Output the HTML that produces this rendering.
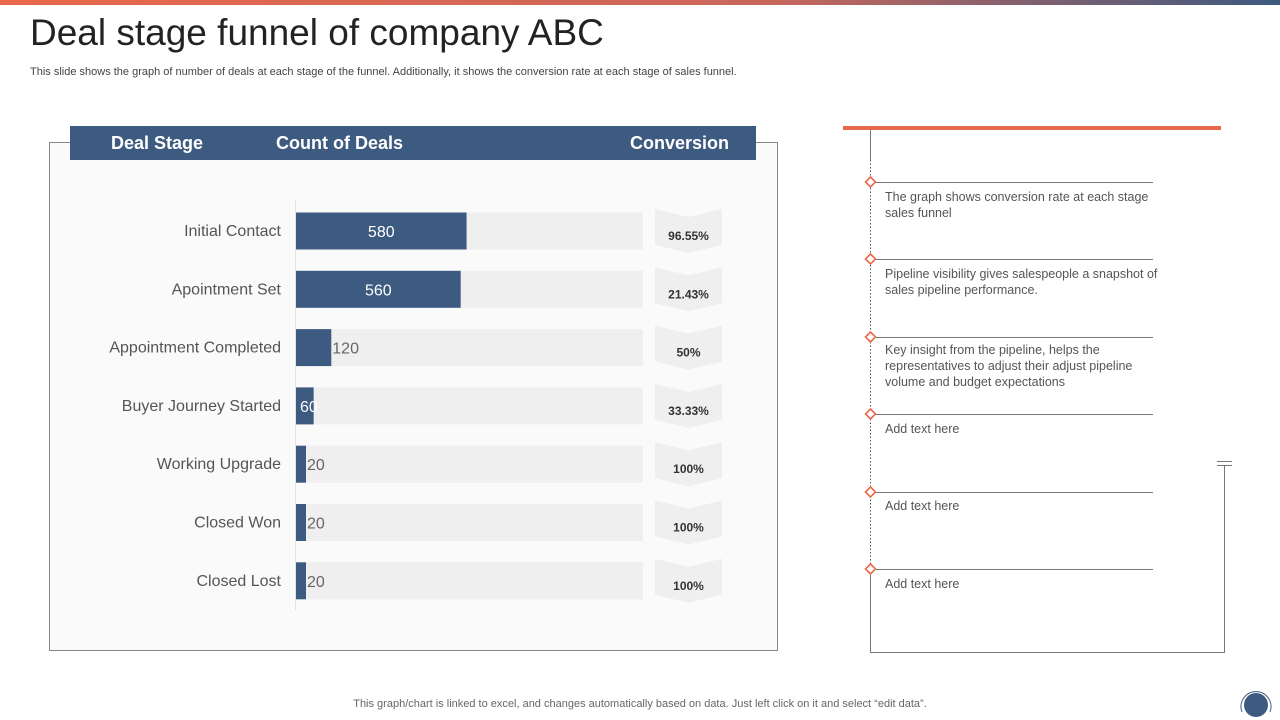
<!DOCTYPE html>
<html><head><meta charset="utf-8"><style>
body{margin:0;width:1280px;height:720px;position:relative;background:#fff;font-family:"Liberation Sans",sans-serif;overflow:hidden}
.abs{position:absolute}
.note{position:absolute;left:885px;font-size:12.5px;color:#555;line-height:16px;width:290px}
</style></head><body>
<div class="abs" style="left:0;top:0;width:1280px;height:5px;background:linear-gradient(90deg,#e8684a,#c9675c 60%,#3d5a80)"></div>
<div class="abs" style="left:30px;top:12px;font-size:37px;color:#222">Deal stage funnel of company ABC</div>
<div class="abs" style="left:30px;top:66px;font-size:11px;color:#444">This slide shows the graph of number of deals at each stage of the funnel. Additionally, it shows the conversion rate at each stage of sales funnel.</div>
<div class="abs" style="left:49px;top:142px;width:727px;height:507px;border:1px solid #888;background:#fafafa"></div>
<div class="abs" style="left:70px;top:126px;width:686px;height:34px;background:#3d5a80;color:#fff;font-weight:bold;font-size:18px">
<span class="abs" style="left:41px;top:7px">Deal Stage</span>
<span class="abs" style="left:206px;top:7px">Count of Deals</span>
<span class="abs" style="left:560px;top:7px">Conversion</span>
</div>
<svg class="abs" style="left:0;top:0" width="780" height="660" id="chart"></svg>
<div class="abs" style="left:843px;top:126px;width:378px;height:4px;background:#e8684a"></div>
<svg class="abs" style="left:0;top:0" width="1280" height="720">
<line x1="870.5" y1="130" x2="870.5" y2="160" stroke="#777"/>
<line x1="870.5" y1="160" x2="870.5" y2="575" stroke="#555" stroke-dasharray="1.5,2"/>
<line x1="870.5" y1="575" x2="870.5" y2="652.5" stroke="#777"/>
<line x1="870" y1="652.5" x2="1225" y2="652.5" stroke="#777"/>
<line x1="1224.5" y1="465" x2="1224.5" y2="652.5" stroke="#777"/>
<line x1="1217" y1="461.5" x2="1232" y2="461.5" stroke="#777"/>
<line x1="1217" y1="465.5" x2="1232" y2="465.5" stroke="#777"/>
<g id="tl"></g>
</svg>
<div class="note" style="top:189px">The graph shows conversion rate at each stage sales funnel</div>
<div class="note" style="top:266px">Pipeline visibility gives salespeople a snapshot of sales pipeline performance.</div>
<div class="note" style="top:342px;width:270px">Key insight from the pipeline, helps the representatives to adjust their adjust pipeline volume and budget expectations</div>
<div class="note" style="top:421px">Add text here</div>
<div class="note" style="top:498px">Add text here</div>
<div class="note" style="top:576px">Add text here</div>
<div class="abs" style="left:0;width:1280px;text-align:center;top:698px;font-size:11px;color:#666">This graph/chart is linked to excel, and changes automatically based on data. Just left click on it and select “edit data”.</div>
<svg class="abs" style="left:1238px;top:686px" width="36" height="34"><path d="M4 26 A15 15 0 1 1 32 26" fill="none" stroke="#3d5a80" stroke-width="1"/><circle cx="18" cy="19" r="12" fill="#3d5a80"/></svg>
<script>
const stages=["Initial Contact","Apointment Set","Appointment Completed","Buyer Journey Started","Working Upgrade","Closed Won","Closed Lost"];
const counts=[580,560,120,60,20,20,20];
const conversions=["96.55%","21.43%","50%","33.33%","100%","100%","100%"];
const NS="http://www.w3.org/2000/svg";
const svg=document.getElementById('chart');
function mk(t,a){const e=document.createElementNS(NS,t);for(const k in a)e.setAttribute(k,a[k]);return e;}
const x0=296,trackW=347,maxV=1180;
function xs(v){return Math.max(10,v/maxV*trackW);}
function ys(i){return 231+i*58.3;}
const ax=mk('line',{x1:295.5,y1:200,x2:295.5,y2:610,stroke:'#e4e4e4'});


svg.appendChild(ax);
stages.forEach((s,i)=>{
  const y=ys(i);
  const lb=mk('text',{x:281,y:y+5,'text-anchor':'end','font-size':16,fill:'#555'});lb.textContent=s;
  
  
  svg.appendChild(lb);
  const tr=mk('rect',{x:x0,y:y-18.5,width:trackW,height:37,fill:'#efefef'});
  
  
  svg.appendChild(tr);
  const w=xs(counts[i]);
  const b=mk('rect',{x:x0,y:y-18.5,width:w,height:37,fill:'#3d5a80'});
  
  
  svg.appendChild(b);
  const inside=w>40;
  const t=mk('text',{x:inside?(w>100?x0+w/2:x0+w/2):x0+w+1,y:y+6,'text-anchor':inside?'middle':'start','font-size':16,fill:inside?'#fff':'#666'});
  t.textContent=counts[i];
  if(counts[i]>=60&&counts[i]<120){t.setAttribute('x',x0+4);t.setAttribute('text-anchor','start');t.setAttribute('fill','#fff');}
  
  
  svg.appendChild(t);
  const cy=y+4,L=655,R=722;
  const ch=mk('polygon',{points:`${L},${cy-26} ${(L+R)/2},${cy-18} ${R},${cy-26} ${R},${cy+10} ${(L+R)/2},${cy+18} ${L},${cy+10}`,fill:'#efefef'});
  
  
  svg.appendChild(ch);
  const ct=mk('text',{x:(L+R)/2,y:cy+5,'text-anchor':'middle','font-size':12,'font-weight':'bold',fill:'#333'});ct.textContent=conversions[i];
  
  
  svg.appendChild(ct);
});
const tl=document.getElementById('tl');
[182,259,337,414,492,569].forEach(y=>{
  const l=mk('line',{x1:876,y1:y+0.5,x2:1153,y2:y+0.5,stroke:'#777'});
  
  
  tl.appendChild(l);
  const d=mk('polygon',{points:`870.5,${y-5} 875.5,${y} 870.5,${y+5} 865.5,${y}`,fill:'#fff',stroke:'#e8684a','stroke-width':1.6});
  
  
  tl.appendChild(d);
});
</script>
</body></html>
